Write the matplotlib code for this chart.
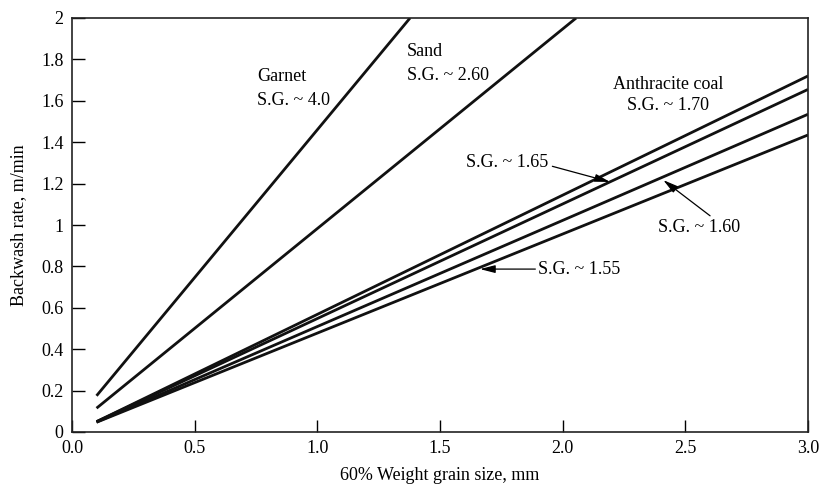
import matplotlib
matplotlib.use('Agg')
import matplotlib.pyplot as plt
import numpy as np

# grain size (mm) at start / end of each curve, rate in m/min
garnet_x = [0.1, 1.378]
garnet_y = [0.175, 2.0]
sand_x = [0.1, 2.055]
sand_y = [0.115, 2.0]
coal_x = [0.1, 3.0]
coal_170 = [0.050, 1.72]
coal_165 = [0.050, 1.655]
coal_160 = [0.048, 1.535]
coal_155 = [0.047, 1.435]

xticks = [0.0, 0.5, 1.0, 1.5, 2.0, 2.5, 3.0]
yticks = [0, 0.2, 0.4, 0.6, 0.8, 1.0, 1.2, 1.4, 1.6, 1.8, 2.0]

plt.rcParams['font.family'] = ['Liberation Serif', 'DejaVu Serif']
plt.rcParams['font.size'] = 13

fig = plt.figure(figsize=(8.19, 4.84), dpi=100)
ax = fig.add_axes([72/819, 1 - 432/484, (808-72)/819, (432-18)/484])

lw = 2.0
for xs, ys in [(garnet_x, garnet_y), (sand_x, sand_y), (coal_x, coal_170),
               (coal_x, coal_165), (coal_x, coal_160), (coal_x, coal_155)]:
    ax.plot(xs, ys, color='#111111', lw=lw, solid_capstyle='butt')

ax.set_xlim(0, 3.0)
ax.set_ylim(0, 2.0)
ax.set_xticks(xticks)
ax.set_xticklabels(['%.1f' % v for v in xticks])
ax.set_yticks(yticks)
ax.set_yticklabels(['%g' % v for v in yticks])
ax.tick_params(direction='in', length=9, width=1, pad=6, top=False, right=False)
for s in ax.spines.values():
    s.set_linewidth(1.2)
    s.set_color('#222222')

ax.set_xlabel('60% Weight grain size, mm', labelpad=7)
ax.set_ylabel('Backwash rate, m/min', labelpad=10)

# curve labels
ax.text(0.754, 1.716, 'Garnet', ha='left', va='center')
ax.text(0.754, 1.60, 'S.G. ~ 4.0', ha='left', va='center')
ax.text(1.366, 1.836, 'Sand', ha='left', va='center')
ax.text(1.366, 1.72, 'S.G. ~ 2.60', ha='left', va='center')
ax.text(2.43, 1.68, 'Anthracite coal', ha='center', va='center')
ax.text(2.43, 1.575, 'S.G. ~ 1.70', ha='center', va='center')

arrow = dict(arrowstyle='-|>,head_length=0.7,head_width=0.18', color='black',
             lw=0.9, shrinkA=0, shrinkB=0)
ax.annotate('S.G. ~ 1.65', xy=(2.193, 1.208), xytext=(1.606, 1.30),
            ha='left', va='center', arrowprops=dict(arrow, relpos=(1.05, 0.3)))
ax.annotate('S.G. ~ 1.60', xy=(2.41, 1.217), xytext=(2.389, 0.99),
            ha='left', va='center', arrowprops=dict(arrow, relpos=(0.65, 1.1)))
ax.annotate('S.G. ~ 1.55', xy=(1.663, 0.787), xytext=(1.90, 0.787),
            ha='left', va='center', arrowprops=dict(arrow, relpos=(-0.03, 0.5)))

fig.savefig('out.png', dpi=100)
